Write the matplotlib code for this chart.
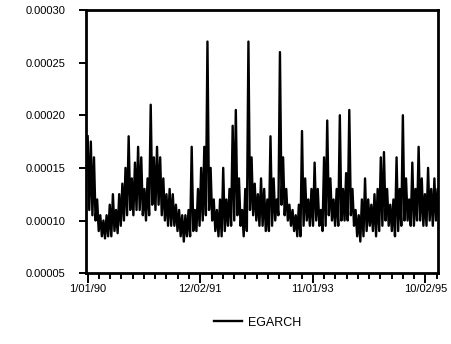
import numpy as np
import matplotlib
matplotlib.use("Agg")
import matplotlib.pyplot as plt
from matplotlib.ticker import MultipleLocator, FixedLocator

plt.rcParams['font.family'] = ['Liberation Sans', 'DejaVu Sans']

# conditional variance (units of 1e-5),
# upper / lower edge of the daily series every 14 observations
hi = [18, 17.5, 16, 12, 10.5, 10, 10.5, 11.5, 12.5, 11, 12.5, 13.5, 15, 18,
      14, 15.5, 17, 16, 13, 14, 21, 16, 17, 16, 14, 12.5, 13, 12.5,
      11.5, 11, 10.5, 10.5, 11, 17, 11, 13, 15, 17, 27, 15, 12, 11,
      12, 15, 12, 13, 19, 20.5, 14, 11, 13, 27, 16, 13.5, 12.5, 14,
      13, 12, 18, 14, 12, 26, 16, 13, 11.5, 11, 10.5, 11.5, 18.5, 14,
      12, 13, 15.5, 13, 11, 16, 19.5, 14, 12, 13, 20, 13, 14.5, 20.5,
      13, 11, 10.5, 12, 14, 12, 11.5, 12.5, 13, 16, 16.5, 13, 11.5, 12,
      16, 13, 20, 14, 12, 15.5, 13, 17, 14, 12.5, 15, 13, 14, 13]
lo = [11, 10.5, 10, 9, 8.5, 8.3, 8.5, 8.5, 9, 8.8, 9.5, 10, 10.5, 11,
      10.5, 11, 11, 10.5, 10, 10.5, 11.5, 11, 11.5, 10.5, 10, 9.5, 9.5, 9.5,
      9, 8.5, 8, 8.5, 8.5, 9, 9, 9.5, 10, 10.5, 11, 10, 9, 8.5,
      8.5, 9, 9.5, 9.5, 10, 10.5, 9.5, 8.5, 9, 11, 10.5, 10, 9.5, 9.5,
      9, 9, 9.5, 10, 10.5, 11.5, 10.5, 10, 9.5, 9, 8.5, 8.5, 9.5, 10,
      9.5, 9.5, 10, 9.5, 9, 9.5, 10.5, 10, 9.5, 9.5, 10, 10, 10, 10.5,
      9.5, 8.5, 8, 8.5, 9, 9.5, 9, 8.5, 9, 9.5, 10, 9.5, 9, 8.5,
      9, 9.5, 10, 10, 9.5, 9.5, 10, 10, 9.5, 9.5, 10, 9.5, 10, 10]
step = 14
tick_pos = [0, 500, 1000, 1500]
tick_lab = ['1/01/90', '12/02/91', '11/01/93', '10/02/95']

vals = np.empty(2 * len(hi))
vals[0::2] = hi
vals[1::2] = lo
vals = vals * 1e-5
t = np.arange(len(vals)) * step / 2.0

fig = plt.figure(figsize=(4.52, 3.44), dpi=100)
ax = fig.add_axes([0.190, 0.206, 0.779, 0.765])
ax.plot(t, vals, color='black', lw=1.7, label='EGARCH')

ax.set_xlim(-8, 1556)
ax.set_ylim(0.00005, 0.00030)
ax.yaxis.set_major_locator(MultipleLocator(0.00005))
ax.yaxis.set_major_formatter(plt.FuncFormatter(lambda v, p: '%.5f' % v))
ax.xaxis.set_major_locator(FixedLocator(tick_pos))
ax.xaxis.set_minor_locator(MultipleLocator(50))
ax.set_xticklabels(tick_lab)
for s in ax.spines.values():
    s.set_linewidth(2)
ax.tick_params(axis='both', labelsize=8, width=1.4, direction='out')
ax.tick_params(axis='x', which='major', length=7, pad=1)
ax.tick_params(axis='x', which='minor', length=4, width=1.4)
ax.tick_params(axis='y', length=5, pad=10)

fig.legend(loc='center', bbox_to_anchor=(0.57, 0.062), frameon=False,
           fontsize=9, handlelength=2.2, handletextpad=0.5)

fig.savefig('out.png', dpi=100)
